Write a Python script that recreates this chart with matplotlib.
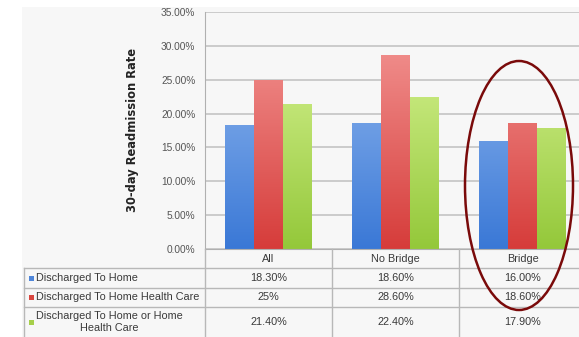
import matplotlib
matplotlib.use("Agg")
import matplotlib.pyplot as plt
import numpy as np
from matplotlib.patches import Ellipse, Rectangle
from matplotlib.lines import Line2D
from matplotlib.colors import LinearSegmentedColormap

# ---- data -------------------------------------------------------------
categories = ["All", "No Bridge", "Bridge"]
series_names = ["Discharged To Home",
                "Discharged To Home Health Care",
                "Discharged To Home or Home\nHealth Care"]
# values written exactly as they appear in the data table (percent)
home_vals = ["18.30", "18.60", "16.00"]
home_health_vals = ["25", "28.60", "18.60"]
home_or_health_vals = ["21.40", "22.40", "17.90"]
y_ticks = [0, 5, 10, 15, 20, 25, 30, 35]

series_text = [home_vals, home_health_vals, home_or_health_vals]
series_num = [[float(v) for v in s] for s in series_text]

# gradient colours (top, bottom) and legend swatch colours
grad = [("#9cc0f2", "#3a78d6"),
        ("#f59c9a", "#d63c3a"),
        ("#def79c", "#94c83a")]
swatch = ["#4f86d9", "#d9463f", "#a6cf4a"]

W, H = 579, 337
fig = plt.figure(figsize=(W / 100, H / 100), dpi=100)
fig.patch.set_facecolor("white")


def fx(px):
    return px / W


def fy(py):
    return 1 - py / H


# light chart background
fig.add_artist(Rectangle((fx(22), fy(337)), fx(557), 330 / H,
                         transform=fig.transFigure, facecolor="#f7f7f7",
                         edgecolor="none", zorder=0))

# plot area
ax_l, ax_r, ax_t, ax_b = 205, 586, 12, 249
ax = fig.add_axes([fx(ax_l), fy(ax_b), fx(ax_r - ax_l), (ax_b - ax_t) / H])
ax.set_facecolor("#f7f7f7")
ax.set_xlim(-0.5, len(categories) - 0.5)
ax.set_ylim(0, 35)
ax.set_yticks(y_ticks)
ax.set_yticklabels([f"{t:.2f}%" for t in y_ticks], fontsize=7.3,
                   color="#555555", family="Liberation Sans")
ax.tick_params(axis="y", length=0, pad=7)
ax.set_xticks([])
ax.grid(axis="y", color="#bfbfbf", linewidth=1.1)
ax.set_axisbelow(True)
for s in ["top", "right"]:
    ax.spines[s].set_visible(False)
ax.spines["left"].set_color("#b0b0b0")
ax.spines["bottom"].set_color("#b0b0b0")
ax.set_ylabel("30-day Readmission Rate", fontsize=8.3, fontweight="bold",
              color="#222222", labelpad=16)

x = np.arange(len(categories))
bw = 0.228
for i, vals in enumerate(series_num):
    bars = ax.bar(x + (i - 1) * bw, vals, width=bw, color="none",
                  edgecolor="none", zorder=2)
    cmap = LinearSegmentedColormap.from_list(f"g{i}", [grad[i][1], grad[i][0]])
    for b in bars:
        x0 = b.get_x()
        gimg = np.linspace(0, 1, 256).reshape(-1, 1)
        im = ax.imshow(gimg, cmap=cmap, origin="lower", aspect="auto",
                       extent=[x0, x0 + b.get_width(), 0, 35],
                       vmin=0, vmax=1, zorder=2)
        im.set_clip_path(b)
ax.set_xlim(-0.5, len(categories) - 0.5)
ax.set_ylim(0, 35)

# ---- data table under the plot ---------------------------------------
line_c = "#b8b8b8"
col_edges = [ax_l + k * (ax_r - ax_l) / 3 for k in range(4)]
row_edges = [249, 268, 288, 307, 345]
tbl_left = 24


def hline(y, x0, x1):
    fig.add_artist(Line2D([fx(x0), fx(x1)], [fy(y), fy(y)],
                          transform=fig.transFigure, color=line_c, lw=1.0))


def vline(x0, y0, y1):
    fig.add_artist(Line2D([fx(x0), fx(x0)], [fy(y0), fy(y1)],
                          transform=fig.transFigure, color=line_c, lw=1.0))


for r in row_edges[1:4]:
    hline(r, tbl_left, W)
vline(tbl_left, row_edges[1], H)
for c in col_edges[:3]:
    vline(c, row_edges[0], H)

txt = dict(fontsize=7.8, color="#3a3a3a", family="Liberation Sans",
           transform=fig.transFigure)
for j, cat in enumerate(categories):
    cx = (col_edges[j] + col_edges[j + 1]) / 2
    fig.text(fx(cx), fy((row_edges[0] + row_edges[1]) / 2), cat,
             ha="center", va="center", **txt)

for i, name in enumerate(series_names):
    cy = (row_edges[i + 1] + min(row_edges[i + 2], 337)) / 2
    fig.add_artist(Rectangle((fx(29), fy(cy + 2.5)), fx(5), 5 / H,
                             transform=fig.transFigure, facecolor=swatch[i],
                             edgecolor="none"))
    fig.text(fx(36), fy(cy), name, ha="left", va="center",
             multialignment="center", linespacing=1.3, **txt)
    for j in range(len(categories)):
        cx = (col_edges[j] + col_edges[j + 1]) / 2
        fig.text(fx(cx), fy(cy), series_text[i][j] + "%",
                 ha="center", va="center", **txt)

# highlight ring around the Bridge group
ring_cx, ring_cy, ring_w, ring_h = 519, 185.5, 108, 249
fig.add_artist(Ellipse((fx(ring_cx), fy(ring_cy)), fx(ring_w), ring_h / H,
                       transform=fig.transFigure, facecolor="none",
                       edgecolor="#7a0a0a", lw=1.8, zorder=10))

fig.savefig("out.png", dpi=100)
